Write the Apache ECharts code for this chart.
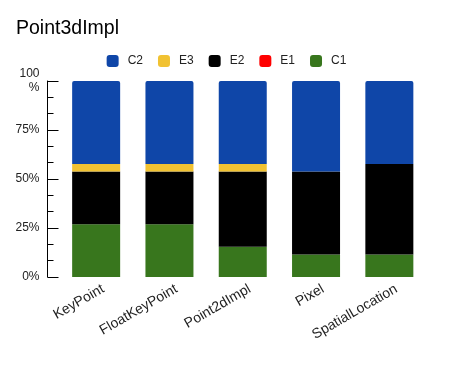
<!DOCTYPE html>
<html>
<head>
<meta charset="utf-8">
<script src="https://cdn.jsdelivr.net/npm/echarts@6/dist/echarts.min.js"></script>
<style>
  html, body { margin: 0; padding: 0; background: #ffffff; }
  #chart { width: 453px; height: 371px; }
</style>
</head>
<body>
<div id="chart"></div>
<script>
// Datos (conteos por categoría, se muestran como porcentaje apilado)
const categories = ['KeyPoint', 'FloatKeyPoint', 'Point2dImpl', 'Pixel', 'SpatialLocation'];
const c1 = [7, 7, 4, 3, 3];
const e1 = [0, 0, 0, 0, 0];
const e2 = [7, 7, 10, 11, 12];
const e3 = [1, 1, 1, 0, 0];
const c2 = [11, 11, 11, 12, 11];
const yTicks = [0, 25, 50, 75, 100];

const totals = categories.map((_, i) => c1[i] + e1[i] + e2[i] + e3[i] + c2[i]);
const pct = arr => arr.map((v, i) => v / totals[i] * 100);

const chart = echarts.init(document.getElementById('chart'));

const seriesDefs = [
    { name: 'C1', data: c1, color: '#38761d' },
    { name: 'E1', data: e1, color: '#ff0000' },
    { name: 'E2', data: e2, color: '#000000' },
    { name: 'E3', data: e3, color: '#f1c232' },
    { name: 'C2', data: c2, color: '#0f46a8', top: true }
];

chart.setOption({
    backgroundColor: '#ffffff',
    animation: false,
    textStyle: { fontFamily: 'Liberation Sans, Arial, sans-serif' },
    title: {
        text: 'Point3dImpl',
        left: 11,
        top: 14,
        textStyle: { fontSize: 19.5, fontWeight: 'normal', color: '#000000' }
    },
    legend: {
        data: ['C2', 'E3', 'E2', 'E1', 'C1'],
        top: 50,
        left: 'center',
        itemWidth: 12,
        itemHeight: 12,
        itemGap: 15,
        icon: 'roundRect',
        textStyle: { fontSize: 12, color: '#222222', padding: [0, 0, 0, 4] }
    },
    grid: { left: 59.5, right: 27, top: 81, bottom: 94, containLabel: false },
    xAxis: {
        type: 'category',
        data: categories,
        axisLine: { show: false },
        axisTick: { show: false },
        axisLabel: {
            rotate: 30,
            margin: 15,
            fontSize: 14,
            color: '#222222',
            padding: [8, -8, 0, 0]
        }
    },
    yAxis: {
        type: 'value',
        min: yTicks[0],
        max: yTicks[yTicks.length - 1],
        interval: 25,
        offset: 12,
        axisLine: { show: true, lineStyle: { color: '#000000', width: 1 } },
        axisTick: { show: true, inside: true, length: 11, lineStyle: { color: '#000000' } },
        minorTick: { show: true, splitNumber: 3, length: 6, lineStyle: { color: '#000000' } },
        splitLine: { show: false },
        axisLabel: {
            margin: 8,
            fontSize: 12,
            color: '#222222',
            lineHeight: 14,
            formatter: v => v === 100 ? '100\n%' : v + '%'
        }
    },
    series: seriesDefs.map(s => ({
        name: s.name,
        type: 'bar',
        stack: 'total',
        barWidth: 48,
        data: pct(s.data),
        itemStyle: {
            color: s.color,
            borderRadius: s.top ? [2, 2, 0, 0] : 0
        }
    }))
});
</script>
</body>
</html>
